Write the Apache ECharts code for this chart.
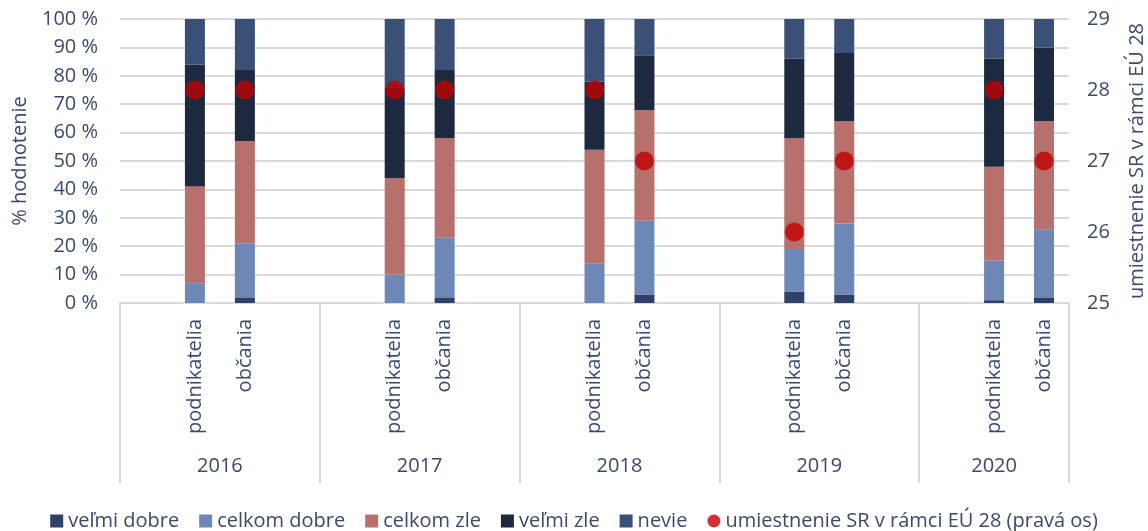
<!DOCTYPE html>
<html>
<head>
<meta charset="utf-8">
<script src="https://cdn.jsdelivr.net/npm/echarts@6/dist/echarts.min.js"></script>
<style>html,body{margin:0;padding:0;background:#fff;}#c{width:1148px;height:531px;}</style>
</head>
<body>
<div id="c"></div>
<script>
const years = ['2016', '2017', '2018', '2019', '2020'];
const groups = ['podnikatelia', 'občania'];
// values per year: [podnikatelia, občania]
const velmiDobre  = [0, 2,  0, 2,  0, 3,  4, 3,  1, 2];
const celkomDobre = [7, 19, 10, 21, 14, 26, 15, 25, 14, 24];
const celkomZle   = [34, 36, 34, 35, 40, 39, 39, 36, 33, 38];
const velmiZle    = [43, 25, 32, 24, 24, 19, 28, 24, 38, 26];
const nevie       = [16, 18, 24, 18, 22, 13, 14, 12, 14, 10];
const umiestnenie = [28, 28, 28, 28, 28, 27, 26, 27, 28, 27];
const leftTicks = [0, 10, 20, 30, 40, 50, 60, 70, 80, 90, 100];
const rightTicks = [25, 26, 27, 28, 29];

// slot layout: each year = blank, podnikatelia, občania, blank (last year without trailing blank)
const slotLabels = [];
const slotIndex = []; // maps slot -> data index or -1
const boundaries = [0];
const yearCenters = [];
years.forEach((y, yi) => {
  const start = slotLabels.length;
  slotLabels.push(''); slotIndex.push(-1);
  groups.forEach((g, gi) => { slotLabels.push(g); slotIndex.push(yi * groups.length + gi); });
  if (yi < years.length - 1) { slotLabels.push(''); slotIndex.push(-1); }
  const end = slotLabels.length;
  boundaries.push(end);
  yearCenters.push((start + end) / 2);
});
const nSlots = slotLabels.length;
const toSlots = arr => slotIndex.map(i => (i < 0 ? null : arr[i]));

const txt = '#3a4a6c';
const font = 'Open Sans';
const grid = '#d9d9d9';

const chart = echarts.init(document.getElementById('c'), null, { renderer: 'canvas' });
const barSeries = [
  ['veľmi dobre', velmiDobre, '#2f4166'],
  ['celkom dobre', celkomDobre, '#6d88b7'],
  ['celkom zle', celkomZle, '#b8706d'],
  ['veľmi zle', velmiZle, '#1d293e'],
  ['nevie', nevie, '#3b5077']
].map(([name, arr, color]) => ({
  name, type: 'bar', stack: 'total', xAxisIndex: 0, yAxisIndex: 0,
  barWidth: 20, data: toSlots(arr), itemStyle: { color },
  emphasis: { disabled: true }
}));

chart.setOption({
  animation: false,
  textStyle: { fontFamily: font },
  grid: { left: 120, right: 79, top: 19, bottom: 228, containLabel: false, outerBoundsMode: 'none' },
  legend: {
    left: 'center', top: 506, itemWidth: 13, itemHeight: 13, itemGap: 20,
    textStyle: { color: txt, fontSize: 20, fontFamily: font },
    data: [
      { name: 'veľmi dobre', icon: 'rect' },
      { name: 'celkom dobre', icon: 'rect' },
      { name: 'celkom zle', icon: 'rect' },
      { name: 'veľmi zle', icon: 'rect' },
      { name: 'nevie', icon: 'rect' },
      { name: 'umiestnenie SR v rámci EÚ 28 (pravá os)', icon: 'circle' }
    ]
  },
  xAxis: [
    {
      type: 'category', data: slotLabels, position: 'bottom',
      axisLine: { show: true, lineStyle: { color: grid, width: 2 } },
      axisTick: { show: false },
      axisLabel: { interval: 0, rotate: 90, margin: 16, color: txt, fontSize: 20, fontFamily: font }
    },
    {
      type: 'value', min: 0, max: nSlots, position: 'bottom',
      axisLine: { show: false },
      splitLine: { show: false },
      axisTick: { show: true, customValues: boundaries, length: 180, inside: false, lineStyle: { color: grid, width: 2 } },
      axisLabel: {
        customValues: yearCenters, margin: 153, color: txt, fontSize: 20, fontFamily: font,
        formatter: v => { const i = yearCenters.findIndex(c => Math.abs(c - v) < 1e-6); return i >= 0 ? years[i] : ''; }
      }
    }
  ],
  yAxis: [
    {
      type: 'value', min: leftTicks[0], max: leftTicks[leftTicks.length - 1], interval: 10, position: 'left',
      name: '% hodnotenie', nameLocation: 'middle', nameGap: 90, nameRotate: 90,
      nameTextStyle: { color: txt, fontSize: 20, fontFamily: font },
      axisLine: { show: false }, axisTick: { show: false },
      axisLabel: { formatter: '{value} %', margin: 22, color: txt, fontSize: 20, fontFamily: font },
      splitLine: { show: true, lineStyle: { color: grid, width: 2 } }
    },
    {
      type: 'value', min: rightTicks[0], max: rightTicks[rightTicks.length - 1], interval: 1, position: 'right',
      name: 'umiestnenie SR v rámci EÚ 28', nameLocation: 'middle', nameGap: 58, nameRotate: 90,
      nameTextStyle: { color: txt, fontSize: 20, fontFamily: font },
      axisLine: { show: false }, axisTick: { show: false },
      axisLabel: { margin: 18, color: txt, fontSize: 20, fontFamily: font },
      splitLine: { show: false }
    }
  ],
  series: barSeries.concat([{
    name: 'umiestnenie SR v rámci EÚ 28 (pravá os)', type: 'scatter',
    xAxisIndex: 0, yAxisIndex: 1, symbol: 'circle', symbolSize: 19, z: 5,
    itemStyle: { color: '#c00000' }, data: toSlots(umiestnenie),
    emphasis: { disabled: true }
  }])
});
</script>
</body>
</html>
